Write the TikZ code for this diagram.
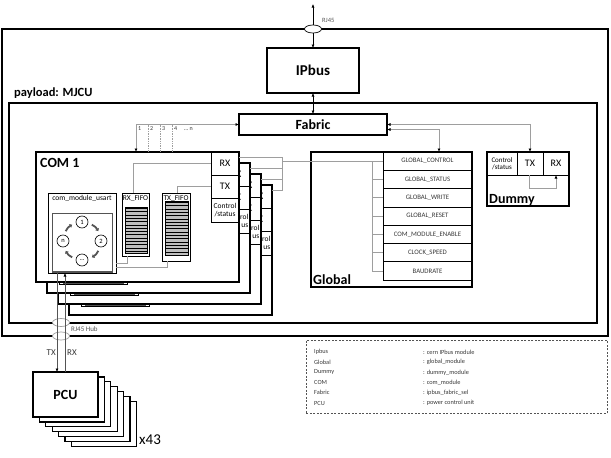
\documentclass[tikz,border=0pt]{standalone}
\usepackage{fontspec}
\setmainfont{Carlito}
\usetikzlibrary{arrows.meta,shapes.geometric,calc}
\definecolor{lg}{gray}{0.62}
\definecolor{dg}{gray}{0.33}
\definecolor{tg}{gray}{0.22}
\begin{document}
\begin{tikzpicture}[x=1pt,y=-1pt,
  blockbox/.style={draw=black,line width=1.5pt,fill=white,inner sep=0pt,outer sep=0pt,anchor=north west},
  cell/.style={draw=black,line width=0.8pt,inner sep=0pt,outer sep=0pt,anchor=north west},
  ttl/.style={font=\fontsize{14}{14}\selectfont\bfseries,inner sep=0pt,anchor=base west},
  conn/.style={draw=lg,line width=0.8pt},
  blk/.style={draw=black,line width=0.6pt},
  dline/.style={draw=dg,line width=0.6pt},
  onetip/.style={-{Latex[length=3.5pt,width=3pt,color=black]}},
  twoway/.style={{Latex[length=3.5pt,width=3pt,color=black]}-{Latex[length=3.5pt,width=3pt,color=black]}},
  smalltext/.style={font=\fontsize{7.5}{8}\selectfont,inner sep=0pt},
  reg/.style={cell,minimum width=89pt,minimum height=18.3pt,font=\fontsize{6.8}{7}\selectfont,text=tg},
  leg/.style={font=\fontsize{6.3}{7}\selectfont,text=tg,inner sep=0pt,anchor=west},
  cyc/.style={draw=dg,line width=1.8pt,-{Triangle[length=2.5pt,width=4pt]}},
  num/.style={circle,draw=black,line width=0.6pt,fill=white,minimum size=12pt,inner sep=0pt,font=\fontsize{6.5}{7}\selectfont},
  rjell/.style={ellipse,line width=0.7pt,fill=white,minimum width=17pt,minimum height=8pt,inner sep=0pt},
]
\useasboundingbox (0,0) rectangle (611,458);
% outer box
\node[blockbox,minimum width=606pt,minimum height=307pt] (outer) at (2,29) {};
\node[rjell,draw=black] (rj) at (313,29) {};
\node[font=\fontsize{6.5}{7}\selectfont,text=dg,anchor=west,inner sep=0pt] (rjl) at (322,20) {RJ45};
\coordinate (ext) at (313,4);
\draw[blk,onetip] (rj.north) -- (ext);
\node[blockbox,minimum width=92pt,minimum height=45pt,font=\fontsize{15}{15}\selectfont\bfseries] (ipbus) at (267,48) {IPbus};
\draw[blk,onetip] (rj.south) -- (ipbus.north);
\node[ttl,font=\fontsize{12.5}{13}\selectfont\bfseries] (pl) at (14,96) {payload: MJCU};
\node[blockbox,minimum width=588pt,minimum height=220pt] (payload) at (9,103) {};
\node[blockbox,minimum width=148pt,minimum height=21pt,font=\fontsize{14}{14}\selectfont\bfseries] (fabric) at (239,114) {Fabric};
\draw[blk,twoway] (ipbus.south) -- (fabric.north);

% COM modules, back to front
\foreach \k in {3,2,1,0}{
\begin{scope}[shift={(11*\k,11*\k)}]
 \node[blockbox,minimum width=203pt,minimum height=130pt] (com\k) at (36,152) {};
 \node[cell,minimum width=28pt,minimum height=23pt,font=\fontsize{10}{10}\selectfont] (rx\k) at (211,152) {RX};
 \node[cell,minimum width=28pt,minimum height=23pt,font=\fontsize{10}{10}\selectfont] (tx\k) at (211,175) {TX};
 \node[cell,minimum width=28pt,minimum height=24pt] (cs\k) at (211,198) {};
 \node[cell,line width=0.6pt,minimum width=68pt,minimum height=80pt] (us\k) at (48,193) {};
 \node[cell,draw=dg,line width=1.5pt,minimum width=60pt,minimum height=58pt] (usin\k) at (52.5,213.5) {};
 \draw[dg,line width=1.4pt] (52,272) -- (113,272);
\end{scope}
}
% visible fragments of the hidden Control/status labels
\foreach \k in {1,2,3}{
  \node[align=right,anchor=east,inner sep=0pt,font=\fontsize{7.5}{8.5}\selectfont] (csf\k) at ([xshift=-1.5pt]cs\k.east) {rol\\us};
}
\node[align=center,inner sep=0pt,font=\fontsize{7.5}{8.5}\selectfont] (cst0) at (cs0.center) {Control\\/status};
% front COM contents
\node[ttl] (comt) at (40,167) {COM 1};
\node[smalltext,anchor=north] (ust) at (82,195) {com\_module\_usart};
\node[num] (ca) at (82,222) {1};
\node[num] (cb) at (101,241) {2};
\node[num] (cc) at (82,260) {…};
\node[num] (cd) at (63,241) {n};
\draw[cyc] (91.8,224.7) .. controls (95.9,227.1) .. (98.3,231.2);
\draw[cyc] (98.3,250.8) .. controls (95.9,254.9) .. (91.8,257.3);
\draw[cyc] (72.2,257.3) .. controls (68.1,254.9) .. (65.7,250.8);
\draw[cyc] (65.7,231.2) .. controls (68.1,227.1) .. (72.2,224.7);
% RX FIFO
\node[cell,line width=0.6pt,minimum width=27pt,minimum height=63pt] (rf) at (122,193) {};
\node[smalltext,anchor=north] (rft) at (135.5,195) {RX\_FIFO};
\fill[gray!50] (125,207) rectangle (147,253);
\foreach \s in {0,...,13}{\draw[line width=0.9pt] (125,208.5+3.3*\s) -- (147,208.5+3.3*\s);}
\draw[line width=0.5pt] (125,207) rectangle (147,253);
% TX FIFO
\node[cell,line width=0.6pt,minimum width=28pt,minimum height=68pt] (tf) at (162,193) {};
\node[smalltext,anchor=north] (tft) at (176,195) {TX\_FIFO};
\fill[gray!50] (165,201) rectangle (188,255);
\foreach \s in {0,...,15}{\draw[line width=0.9pt] (165,202.5+3.3*\s) -- (188,202.5+3.3*\s);}
\draw[line width=0.5pt] (165,201) rectangle (188,255);
% internal links
\draw[conn] (rx0.west) -| ([xshift=11pt]rf.north west);
\draw[conn] (tx0.west) -| ([xshift=15pt]tf.north west);
\draw[conn] ([yshift=10pt]us0.south east) -| ([xshift=5pt]rf.south west);
\draw[conn] ([yshift=6pt]us0.south east) -| ([xshift=5pt]tf.south west);

% Global
\node[blockbox,minimum width=161pt,minimum height=135pt] (glob) at (311,152) {};
\node[ttl] (globt) at (313,284) {Global};
\node[reg] (reg1) at (383,152) {GLOBAL\_CONTROL};
\node[reg] (reg2) at (383,170.3) {GLOBAL\_STATUS};
\node[reg] (reg3) at (383,188.6) {GLOBAL\_WRITE};
\node[reg] (reg4) at (383,206.9) {GLOBAL\_RESET};
\node[reg] (reg5) at (383,225.2) {COM\_MODULE\_ENABLE};
\node[reg] (reg6) at (383,243.5) {CLOCK\_SPEED};
\node[reg] (reg7) at (383,261.8) {BAUDRATE};

% Dummy
\node[blockbox,minimum width=82pt,minimum height=54pt] (dummy) at (487,152) {};
\node[cell,minimum width=30pt,minimum height=23pt,align=center,font=\fontsize{7}{7.5}\selectfont] (dcs) at (487,152) {Control\\/status};
\node[cell,minimum width=26pt,minimum height=23pt,font=\fontsize{10}{10}\selectfont] (dtx) at (517,152) {TX};
\node[cell,minimum width=26pt,minimum height=23pt,font=\fontsize{10}{10}\selectfont] (drx) at (543,152) {RX};
\node[ttl] (dummyt) at (489,203) {Dummy};
\draw[conn,onetip] ([xshift=12pt]dtx.south west) -- ++(0,13) -| ([xshift=13pt]drx.south west);

% Fabric links
\draw[conn,twoway] (fabric.east) -| (dtx.north);
\draw[conn,twoway] ([yshift=-5pt]fabric.east) -| ([xshift=128pt]glob.north west);
\draw[conn,twoway] ([xshift=100pt]com0.north west) |- (fabric.west);
\foreach \xx in {112,124,136}{
  \draw[lg,line width=0.7pt,densely dotted] ([xshift=\xx pt]com0.north west) -- ++(0,-27.5);
}
\node[font=\fontsize{6}{6}\selectfont,anchor=west,inner sep=0pt,text=tg] (n1) at (138,129) {1};
\node[font=\fontsize{6}{6}\selectfont,anchor=west,inner sep=0pt,text=tg] (n2) at (150,129) {2};
\node[font=\fontsize{6}{6}\selectfont,anchor=west,inner sep=0pt,text=tg] (n3) at (162,129) {3};
\node[font=\fontsize{6}{6}\selectfont,anchor=west,inner sep=0pt,text=tg] (n4) at (174,129) {4};
\node[font=\fontsize{6}{6}\selectfont,anchor=west,inner sep=0pt,text=tg] (nn) at (184,129) {… n};

% COM to Global bus
\coordinate (busT) at (282,157);
\foreach \k in {0,1,2,3}{
  \draw[conn] ([yshift=-5pt]com\k.north east) -| (busT);
}
\draw[conn] (reg1.west -| busT) -- (reg1.west);
\coordinate (gb) at (372,0);
\draw[conn] (reg1.west -| gb) -- (reg7.west -| gb);
\foreach \r in {2,...,7}{ \draw[conn] (reg\r.west -| gb) -- (reg\r.west); }

% RJ45 hub
\node[rjell,draw=lg] (hub1) at (61,322.5) {};
\node[rjell,draw=lg] (hub2) at (61,336) {};
\node[font=\fontsize{7}{7}\selectfont,text=dg,anchor=west,inner sep=0pt] (hubt) at (71,329) {RJ45 Hub};

% PCU stack
\foreach \j in {6,5,...,0}{
  \node[blockbox,line width=1.3pt,minimum width=65pt,minimum height=45pt] (pcu\j) at (33+6.4*\j,372+4.9*\j) {};
}
\node[font=\fontsize{14}{14}\selectfont\bfseries] (pcut) at (pcu0.center) {PCU};
\node[font=\fontsize{15}{15}\selectfont,anchor=base west,inner sep=0pt] (x43) at (139,444) {x43};
\draw[dline,onetip] ([xshift=9pt]us0.south west) -- ([xshift=24pt]pcu0.north west);
\draw[dline,onetip] ([xshift=32pt]pcu0.north west) -- ([xshift=17pt]us0.south west);
\node[font=\fontsize{9}{9}\selectfont,anchor=east,inner sep=0pt,text=tg] (txl) at (56,353) {TX};
\node[font=\fontsize{9}{9}\selectfont,anchor=west,inner sep=0pt,text=tg] (rxl) at (67,353) {RX};

% Legend
\node[draw=dg,line width=0.7pt,dash pattern=on 2pt off 1.5pt,minimum width=301pt,minimum height=73pt,anchor=north west,inner sep=0pt] (legend) at (306,340) {};
\node[leg] (l1a) at (314,352) {Ipbus};
\node[leg] (l1b) at (423,352) {: cern IPbus module};
\node[leg] (l2a) at (314,362.2) {Global};
\node[leg] (l2b) at (423,362.2) {: global\_module};
\node[leg] (l3a) at (314,372.4) {Dummy};
\node[leg] (l3b) at (423,372.4) {: dummy\_module};
\node[leg] (l4a) at (314,382.6) {COM};
\node[leg] (l4b) at (423,382.6) {: com\_module};
\node[leg] (l5a) at (314,392.8) {Fabric};
\node[leg] (l5b) at (423,392.8) {: ipbus\_fabric\_sel};
\node[leg] (l6a) at (314,403) {PCU};
\node[leg] (l6b) at (423,403) {: power control unit};
\end{tikzpicture}
\end{document}
